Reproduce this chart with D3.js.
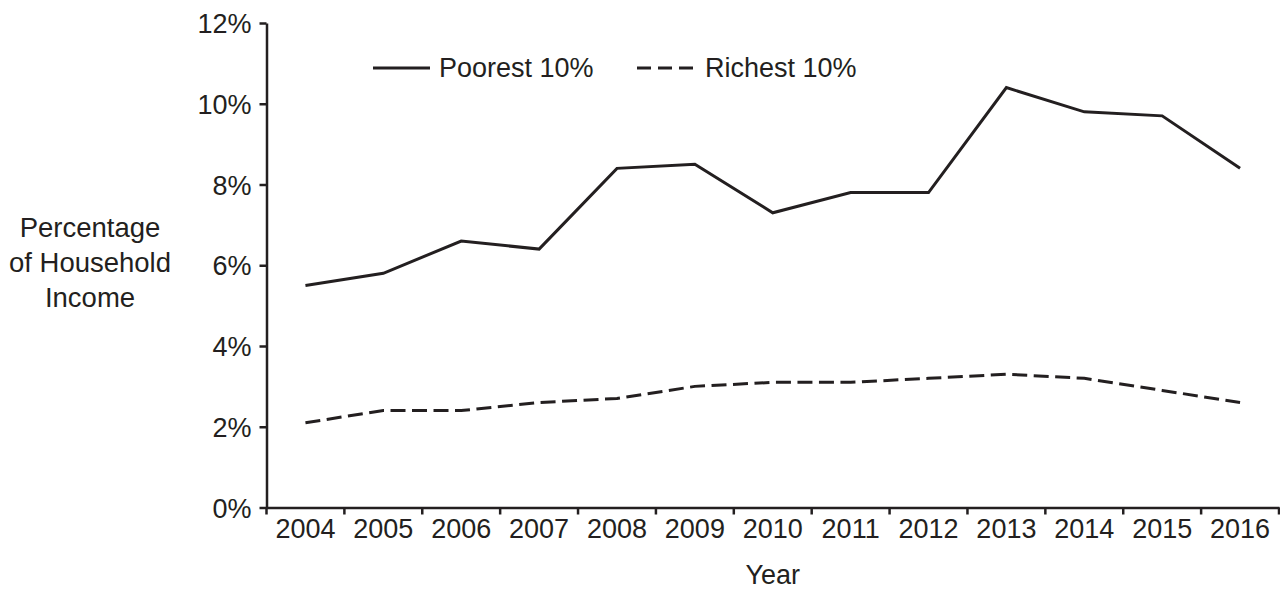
<!DOCTYPE html>
<html>
<head>
<meta charset="utf-8">
<script src="https://cdn.jsdelivr.net/npm/d3@7"></script>
<style>
  html, body { margin: 0; padding: 0; background: #fff; }
  svg { display: block; }
  text { font-family: "Liberation Sans", Arial, sans-serif; fill: #231f20; }
</style>
</head>
<body>
<svg id="chart" width="1280" height="592"></svg>
<script>
const years = ["2004","2005","2006","2007","2008","2009","2010","2011","2012","2013","2014","2015","2016"];
const poorest = [5.5, 5.8, 6.6, 6.4, 8.4, 8.5, 7.3, 7.8, 7.8, 10.4, 9.8, 9.7, 8.4];
const richest = [2.1, 2.4, 2.4, 2.6, 2.7, 3.0, 3.1, 3.1, 3.2, 3.3, 3.2, 2.9, 2.6];
const yTicks = [0, 2, 4, 6, 8, 10, 12];
const seriesNames = ["Poorest 10%", "Richest 10%"];
const yTitle = ["Percentage", "of Household", "Income"];
const xTitle = "Year";

const ink = "#231f20";
const svg = d3.select("#chart");
const mLeft = 266.5, mRight = 1279, mTop = 23, mBottom = 507.5;

const x = d3.scaleBand().domain(years).range([mLeft, mRight]).padding(0);
const y = d3.scaleLinear().domain([0, 12]).range([mBottom, mTop]);
const cx = d => x(d) + x.bandwidth() / 2;

// Y axis
const yAxis = svg.append("g").attr("transform", `translate(${mLeft},0)`)
  .call(d3.axisLeft(y).tickValues(yTicks).tickFormat(d => d + "%").tickSize(7).tickPadding(8).tickSizeOuter(0));
yAxis.select(".domain").attr("stroke", ink).attr("stroke-width", 2.5);
yAxis.selectAll(".tick line").attr("stroke", ink).attr("stroke-width", 2.5);
yAxis.selectAll(".tick text").attr("font-size", 27).attr("font-family", "Liberation Sans, Arial, sans-serif").attr("fill", ink).attr("dy", "0.36em");

// X axis (labels at band centers, ticks at band boundaries)
const xAxis = svg.append("g").attr("transform", `translate(0,${mBottom})`)
  .call(d3.axisBottom(x).tickSize(0).tickPadding(11).tickSizeOuter(0));
xAxis.select(".domain").attr("stroke", ink).attr("stroke-width", 2.5);
xAxis.selectAll(".tick text").attr("font-size", 27).attr("font-family", "Liberation Sans, Arial, sans-serif").attr("fill", ink).attr("dy", "0.71em");
const bounds = years.map(d => x(d)).concat([x(years[years.length - 1]) + x.bandwidth()]);
svg.append("g").selectAll("line").data(bounds).join("line")
  .attr("x1", d => d).attr("x2", d => d)
  .attr("y1", mBottom).attr("y2", mBottom + 7)
  .attr("stroke", ink).attr("stroke-width", 2.5);

// Lines
const line = d3.line().x((d, i) => cx(years[i])).y(d => y(d));
svg.append("path").datum(poorest).attr("d", line)
  .attr("fill", "none").attr("stroke", ink).attr("stroke-width", 3).attr("stroke-linejoin", "miter");
svg.append("path").datum(richest).attr("d", line)
  .attr("fill", "none").attr("stroke", ink).attr("stroke-width", 3).attr("stroke-dasharray", "15,6.5");

// Legend
const lg = svg.append("g");
lg.append("line").attr("x1", 373).attr("x2", 430).attr("y1", 68).attr("y2", 68).attr("stroke", ink).attr("stroke-width", 3);
lg.append("text").attr("x", 439).attr("y", 77).attr("font-size", 27).text(seriesNames[0]);
lg.append("line").attr("x1", 637).attr("x2", 693).attr("y1", 68).attr("y2", 68).attr("stroke", ink).attr("stroke-width", 3).attr("stroke-dasharray", "14,7");
lg.append("text").attr("x", 705).attr("y", 77).attr("font-size", 27).text(seriesNames[1]);

// Y title
svg.append("g").selectAll("text").data(yTitle).join("text")
  .attr("x", 90).attr("y", (d, i) => 237 + i * 35)
  .attr("text-anchor", "middle").attr("font-size", 27.5).text(d => d);

// X title
svg.append("text").attr("x", (mLeft + mRight) / 2).attr("y", 584)
  .attr("text-anchor", "middle").attr("font-size", 27).text(xTitle);
</script>
</body>
</html>
